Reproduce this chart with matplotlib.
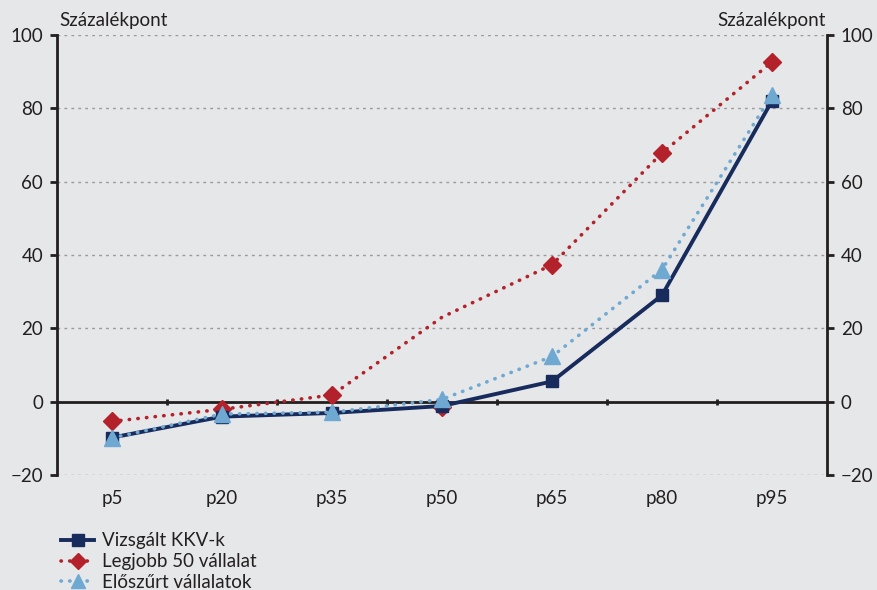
import matplotlib.pyplot as plt
from matplotlib.lines import Line2D

plt.rcParams['font.family'] = ['Lato', 'DejaVu Sans']

# categories and series values (percentage points)
categories = ['p5', 'p20', 'p35', 'p50', 'p65', 'p80', 'p95']
kkv = [-9.8, -4.1, -3.1, -1.2, 5.5, 29.0, 82.0]
# the red line and its markers do not coincide at p50 in the original
top50_line = [-5.4, -2.1, 1.8, 23.0, 37.3, 67.8, 92.6]
top50_marker = [-5.4, -2.1, 1.8, -1.5, 37.3, 67.8, 92.6]
preselected = [-9.9, -3.4, -2.9, 0.6, 12.3, 36.0, 83.6]
yticks = [-20, 0, 20, 40, 60, 80, 100]

bg = '#E6E7E9'
navy = '#172B5C'
red = '#B3222A'
lblue = '#6FA9D2'
dark = '#231F20'
fs = 13.5
dots = (0, (0.1, 2.3))

fig = plt.figure(figsize=(8.77, 5.90), dpi=100, facecolor=bg)
ax = fig.add_axes([0.065, 0.195, 0.878, 0.746])
ax.set_facecolor(bg)

x = list(range(len(categories)))

# grid lines
for v in yticks:
    if v != 0:
        ax.axhline(v, color='#9A9A9A', lw=1, ls=(0, (2, 3)), zorder=1)
ax.axhline(0, color=dark, lw=2, zorder=2)
# small ticks on the zero line at category boundaries
for b in range(len(categories) - 1):
    ax.plot([b + 0.5, b + 0.5], [0.8, -1.0], color=dark, lw=2, zorder=2,
            solid_capstyle='butt')

ax.plot(x, top50_line, color=red, lw=2.6, ls=dots,
        dash_capstyle='round', zorder=3)
ax.plot(x, top50_marker, color=red, lw=0, marker='D', ms=9, zorder=3)
ax.plot(x, kkv, color=navy, lw=2.8, marker='s', ms=9, zorder=4)
ax.plot(x, preselected, color=lblue, lw=2.6, ls=dots, marker='^',
        ms=11, dash_capstyle='round', zorder=5)

ax.set_xlim(-0.5, len(categories) - 0.5)
ax.set_ylim(-20, 100)
ax.set_xticks(x)
ax.set_xticklabels(categories)
ax.set_yticks(yticks)
ax.set_yticklabels(['\u221220' if v == -20 else str(v) for v in yticks])
ax.tick_params(axis='x', length=0, labelsize=fs, colors=dark, pad=11)
ax.tick_params(axis='y', length=5, width=2, labelsize=fs, colors=dark,
               direction='out', left=True, right=True, labelleft=True,
               labelright=True, pad=5)

for s in ['top', 'bottom']:
    ax.spines[s].set_visible(False)
for s in ['left', 'right']:
    ax.spines[s].set_color(dark)
    ax.spines[s].set_linewidth(2)

fig.text(0.068, 0.965, 'Százalékpont', fontsize=fs, color=dark,
         ha='left', va='center')
fig.text(0.942, 0.965, 'Százalékpont', fontsize=fs, color=dark,
         ha='right', va='center')

handles = [
    Line2D([], [], color=navy, lw=2.8, marker='s', ms=8),
    Line2D([], [], color=red, lw=2.6, ls=dots, dash_capstyle='round',
           marker='D', ms=8),
    Line2D([], [], color=lblue, lw=2.6, ls=dots, dash_capstyle='round',
           marker='^', ms=10),
]
labels = ['Vizsgált KKV-k', 'Legjobb 50 vállalat', 'Előszűrt vállalatok']
fig.legend(handles, labels, loc='lower left', bbox_to_anchor=(0.05, -0.03),
           frameon=False, fontsize=fs, handlelength=1.8, handletextpad=0.4,
           labelspacing=0.2, labelcolor=dark)

plt.savefig('out.png', dpi=100, facecolor=bg)
